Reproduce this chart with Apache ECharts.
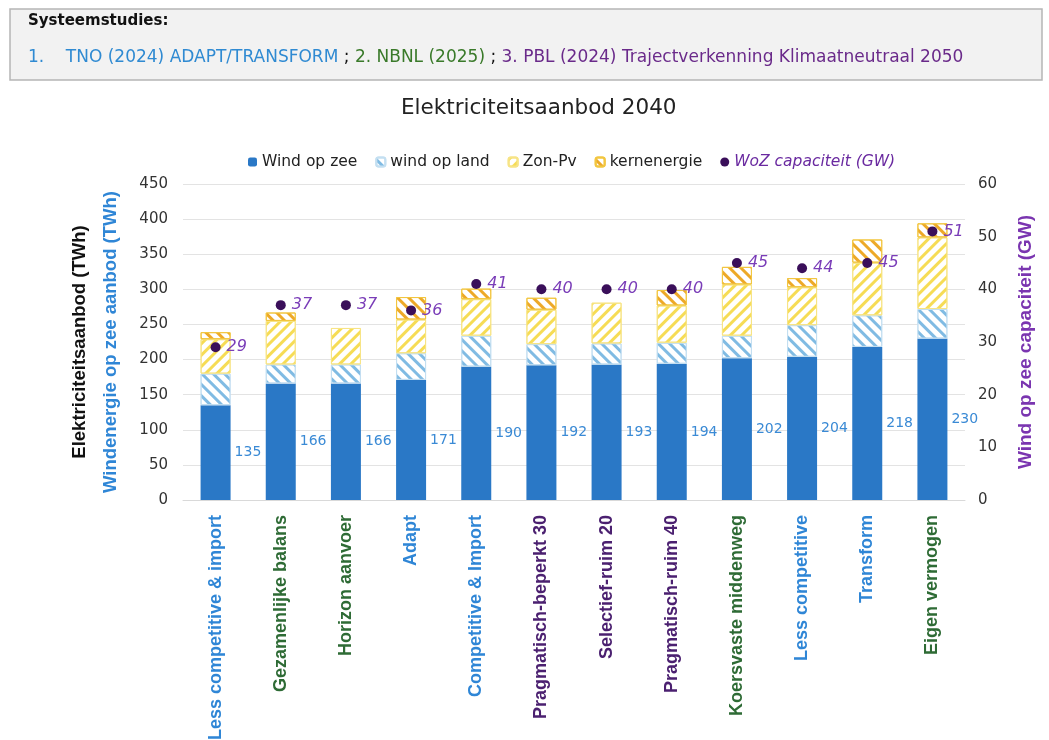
<!DOCTYPE html>
<html>
<head>
<meta charset="utf-8">
<script src="https://cdn.jsdelivr.net/npm/echarts@6/dist/echarts.min.js"></script>
<style>
    body{ margin:0; background:#fff; }
    #chart{ width:1049px; height:740px; }
</style>
</head>
<body>
<div id="chart"></div>
<script>
    // scenario's per systeemstudie (1 = TNO, 2 = NBNL, 3 = PBL)
    var categories = ['Less competitive & import', 'Gezamenlijke balans', 'Horizon aanvoer', 'Adapt',
        'Competitive & Import', 'Pragmatisch-beperkt 30', 'Selectief-ruim 20', 'Pragmatisch-ruim 40',
        'Koersvaste middenweg', 'Less competitive', 'Transform', 'Eigen vermogen'];
    var study = [1, 2, 2, 1, 1, 3, 3, 3, 2, 1, 1, 2];

    // TWh
    var windZee  = [135, 166, 166, 171, 190, 192, 193, 194, 202, 204, 218, 230];
    var windLand = [45, 27, 27, 38, 44, 30, 30, 30, 32, 45, 45, 42];
    var zonPv    = [49, 62, 52, 48, 52, 49, 58, 53, 73, 54, 75, 102];
    var kern     = [10, 12, null, 32, 15, 17, null, 22, 25, 13, 33, 20];
    // GW
    var wozCap   = [29, 37, 37, 36, 41, 40, 40, 40, 45, 44, 45, 51];

    var studyColor = {1: '#2f86d6', 2: '#2e6b35', 3: '#4b2070'};
    var font = 'DejaVu Sans';

    var chart = echarts.init(document.getElementById('chart'));
    var option = {
        backgroundColor: '#fff',
        animation: false,
        textStyle: { fontFamily: font },
        title: {
            text: 'Elektriciteitsaanbod 2040',
            left: 396,
            top: 92,
            textStyle: { fontFamily: font, fontSize: 21.5, fontWeight: 'normal', color: '#222' }
        },
        graphic: [
            {
                type: 'rect',
                shape: { x: 10, y: 9, width: 1032, height: 71 },
                style: { fill: '#f2f2f2', stroke: '#b5b5b5', lineWidth: 1.5 }
            },
            {
                type: 'text',
                left: 28, top: 14,
                style: { text: 'Systeemstudies:', font: 'bold 15px "DejaVu Sans"', fill: '#111' }
            },
            {
                type: 'text',
                left: 28, top: 49,
                style: {
                    text: '{a|1.    TNO (2024) ADAPT/TRANSFORM}{k| ; }{b|2. NBNL (2025)}{k| ; }{c|3. PBL (2024) Trajectverkenning Klimaatneutraal 2050}',
                    rich: {
                        a: { fontFamily: font, fontSize: 17, fill: '#2f8ad2' },
                        b: { fontFamily: font, fontSize: 17, fill: '#3a7a2a' },
                        c: { fontFamily: font, fontSize: 17, fill: '#6a2a8a' },
                        k: { fontFamily: font, fontSize: 17, fill: '#111' }
                    }
                }
            }
        ],
        legend: {
            left: 243,
            top: 149,
            itemWidth: 9,
            itemHeight: 9,
            itemGap: 18,
            textStyle: { fontFamily: font, fontSize: 15.5, color: '#222' },
            data: ['Wind op zee', 'wind op land', 'Zon-Pv', 'kernenergie',
                { name: 'WoZ capaciteit (GW)', icon: 'circle', textStyle: { fontStyle: 'italic', color: '#6a2aa0' } }]
        },
        grid: { left: 183, right: 84, top: 184, bottom: 240, outerBoundsMode: 'none' },
        xAxis: {
            type: 'category',
            data: categories,
            axisTick: { show: false },
            axisLine: { lineStyle: { color: '#d9d9d9' } },
            axisLabel: {
                rotate: 90,
                margin: 15,
                fontFamily: 'Liberation Sans',
                fontWeight: 'bold',
                fontSize: 18,
                interval: 0,
                color: function (value, index) { return studyColor[study[index]]; }
            }
        },
        yAxis: [
            {
                type: 'value',
                min: 0, max: 450, interval: 50,
                name: '{a|Elektriciteitsaanbod (TWh)}\n{b|Windenergie op zee aanbod (TWh)}',
                nameLocation: 'middle',
                nameRotate: 90,
                nameGap: 57,
                nameTextStyle: {
                    rich: {
                        a: { fontFamily: 'Liberation Sans', fontWeight: 'bold', fontSize: 18.5, color: '#111', lineHeight: 31 },
                        b: { fontFamily: 'Liberation Sans', fontWeight: 'bold', fontSize: 18.5, color: '#2f86d6', lineHeight: 31 }
                    }
                },
                axisLabel: { fontSize: 15, color: '#333', margin: 15 },
                splitLine: { lineStyle: { color: '#e3e3e3' } }
            },
            {
                type: 'value',
                min: 0, max: 60, interval: 10,
                name: 'Wind op zee capaciteit (GW)',
                nameLocation: 'middle',
                nameRotate: 90,
                nameGap: 51,
                nameTextStyle: { fontFamily: 'Liberation Sans', fontWeight: 'bold', fontSize: 19, color: '#7a35b0' },
                axisLabel: { fontSize: 15, color: '#333', margin: 13 },
                splitLine: { show: false }
            }
        ],
        series: [
            {
                name: 'Wind op zee',
                type: 'bar',
                stack: 'tot',
                barWidth: 30,
                data: windZee,
                itemStyle: { color: '#2a78c6' },
                label: {
                    show: true,
                    position: 'right',
                    distance: 4,
                    fontSize: 14,
                    color: '#3a8ad5'
                }
            },
            {
                name: 'wind op land',
                type: 'bar',
                stack: 'tot',
                data: windLand,
                itemStyle: {
                    color: '#fff',
                    borderColor: '#c4dff1',
                    borderWidth: 1,
                    decal: { symbol: 'rect', symbolSize: 1, dashArrayX: [1, 0], dashArrayY: [2.5, 4.5], rotation: Math.PI / 4, color: '#80bbe3' }
                }
            },
            {
                name: 'Zon-Pv',
                type: 'bar',
                stack: 'tot',
                data: zonPv,
                itemStyle: {
                    color: '#fff',
                    borderColor: '#f7e486',
                    borderWidth: 1,
                    decal: { symbol: 'rect', symbolSize: 1, dashArrayX: [1, 0], dashArrayY: [2.5, 4.5], rotation: -Math.PI / 4, color: '#f6dc55' }
                }
            },
            {
                name: 'kernenergie',
                type: 'bar',
                stack: 'tot',
                data: kern,
                itemStyle: {
                    color: '#fff',
                    borderColor: '#f2c640',
                    borderWidth: 1,
                    decal: { symbol: 'rect', symbolSize: 1, dashArrayX: [1, 0], dashArrayY: [2.5, 4.5], rotation: Math.PI / 4, color: '#eda928' }
                }
            },
            {
                name: 'WoZ capaciteit (GW)',
                type: 'scatter',
                yAxisIndex: 1,
                data: wozCap,
                symbol: 'circle',
                symbolSize: 10,
                itemStyle: { color: '#3a0f5a', opacity: 1 },
                label: {
                    show: true,
                    position: 'right',
                    distance: 6,
                    fontSize: 16,
                    fontStyle: 'italic',
                    color: '#7a3db8'
                }
            }
        ]
    };
    chart.setOption(option);
</script>
</body>
</html>
